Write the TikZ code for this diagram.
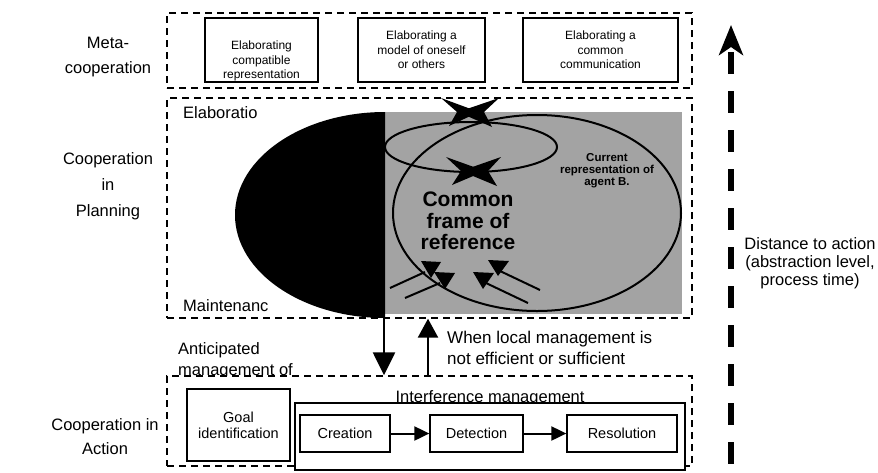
\documentclass[tikz,border=0pt]{standalone}
\usepackage{fontspec}
\setmainfont{Liberation Sans}
\usetikzlibrary{arrows.meta}
\definecolor{screen}{gray}{0.64}

\begin{document}
\begin{tikzpicture}[x=1pt,y=-1pt,
  zone/.style={draw, dash pattern=on 7pt off 5pt, line width=1.4pt, inner sep=0pt},
  sbox/.style={draw, line width=1.3pt, inner sep=0pt, fill=white},
  lbl/.style={font=\fontsize{16.5}{25}\selectfont, align=center, inner sep=0pt},
  small/.style={font=\fontsize{12}{14.5}\selectfont, align=center, inner sep=0pt},
  boxtxt/.style={font=\fontsize{14.5}{16}\selectfont, align=center},
  thick arrow/.style={line width=2.5pt},
  flow/.style={line width=2pt, -{Triangle[length=15pt,width=14pt]}},
  rim/.style={line width=2pt},
]
\useasboundingbox (0,0) rectangle (878,472);

% ---- level labels -------------------------------------------------
\node[lbl] (lmeta) at (108,57.5) {Meta-\\cooperation};
\node[lbl, font=\fontsize{16.5}{26}\selectfont] (lplan) at (108,186) {Cooperation\\in\\Planning};
\node[lbl, font=\fontsize{16.5}{23.5}\selectfont] (lact) at (105,436.5) {Cooperation in\\Action};

% ---- meta-cooperation ---------------------------------------------
\node[zone, minimum width=525pt, minimum height=75pt] (meta) at (429.5,50.5) {};
\node[sbox, minimum width=113pt, minimum height=64pt] (m1) at (261.5,50) {};
\node[small] (m1t) at (261.5,61) {Elaborating\\compatible\\representation};
\node[sbox, small, minimum width=127pt, minimum height=64pt] (m2) at (421.5,50) {Elaborating a\\model of oneself\\or others};
\node[sbox, small, minimum width=155pt, minimum height=64pt] (m3) at (600.5,50) {Elaborating a\\common\\communication};

% ---- cooperation in planning --------------------------------------
\node[zone, minimum width=525pt, minimum height=220pt] (plan) at (429.5,208) {};
\fill[screen] (385,112) rectangle (682,314);
\begin{scope}
  \clip (200,100) rectangle (385,330);
  \fill[black] (385,215) ellipse [x radius=150, y radius=103];
\end{scope}
\draw[rim] (537,213) ellipse [x radius=144, y radius=98];
\draw[rim] (471,147) ellipse [x radius=86, y radius=25];

\node[lbl, anchor=west] (elab) at (183,113) {Elaboratio};
\node[lbl, anchor=west] (maint) at (183,306) {Maintenanc};

\node[font=\bfseries\fontsize{21}{21.5}\selectfont, align=center, inner sep=0pt] (cfr) at (468,221) {Common\\frame of\\reference};
\node[font=\bfseries\fontsize{11.5}{12}\selectfont, align=center, inner sep=0pt] (repB) at (607,171) {Current\\representation of\\agent B.};

% exchanges on the shared representation
\fill (441,98) -- (479,112) -- (449,126) -- (457,112) -- cycle;
\fill (499,98) -- (458,112) -- (492,127) -- (484,112) -- cycle;
\fill (446,157) -- (485,171) -- (452,185) -- (461,171) -- cycle;
\fill (501,157) -- (461,171) -- (497,186) -- (488,171) -- cycle;

% updates feeding the common frame
\draw[rim] (390,288) -- (425,272);
\draw[rim] (405,298) -- (440,283);
\draw[rim] (528,303) -- (486,283);
\draw[rim] (540,290) -- (500,271);
\fill (421,261) -- (441,262) -- (431,278) -- cycle;
\fill (434,272) -- (455,273) -- (445,289) -- cycle;
\fill (473,272) -- (494,273) -- (483,289) -- cycle;
\fill (488,260) -- (509,261) -- (498,276) -- cycle;

% ---- links between the two lower levels ---------------------------
\node[lbl, align=left, anchor=base west, font=\fontsize{16.5}{21}\selectfont] (antic) at (178,375.5) {Anticipated\\management of};
\node[lbl, align=left, anchor=west, font=\fontsize{17}{21}\selectfont] (when) at (447,347.5) {When local management is\\not efficient or sufficient};

% ---- cooperation in action ----------------------------------------
\node[zone, fill=white, minimum width=525pt, minimum height=90pt] (act) at (429.5,421) {};

\coordinate (dnx) at (384,0);
\coordinate (upx) at (428,0);
\draw[thick arrow, -{Triangle[length=23pt,width=22pt]}] (plan.south -| dnx) -- (act.north -| dnx);
\draw[thick arrow, -{Triangle[length=19pt,width=20pt]}] (act.north -| upx) -- (plan.south -| upx);

\node[sbox, boxtxt, minimum width=103pt, minimum height=72pt] (goal) at (238.5,425) {Goal\\identification};
\node[lbl, anchor=base] (intft) at (490,402) {Interference management};
\node[sbox, minimum width=390pt, minimum height=67pt] (intf) at (490,436.5) {};
\node[sbox, boxtxt, minimum width=90pt, minimum height=37pt] (cre) at (345,433.5) {Creation};
\node[sbox, boxtxt, minimum width=93pt, minimum height=37pt] (det) at (476.5,433.5) {Detection};
\node[sbox, boxtxt, minimum width=110pt, minimum height=37pt] (res) at (622,433.5) {Resolution};
\draw[flow] (cre) -- (det);
\draw[flow] (det) -- (res);

% ---- abstraction axis ---------------------------------------------
\coordinate (abot) at (731,466);
\coordinate (atop) at (731,25);
\draw[line width=6pt, dash pattern=on 22pt off 17pt, dash phase=32pt,
      {Stealth[length=30pt,width=24pt,inset=8pt]}-] (atop) -- (abot);
\node[lbl, font=\fontsize{16.5}{18}\selectfont] (dist) at (810,263) {Distance to action\\(abstraction level,\\process time)};
\end{tikzpicture}
\end{document}
